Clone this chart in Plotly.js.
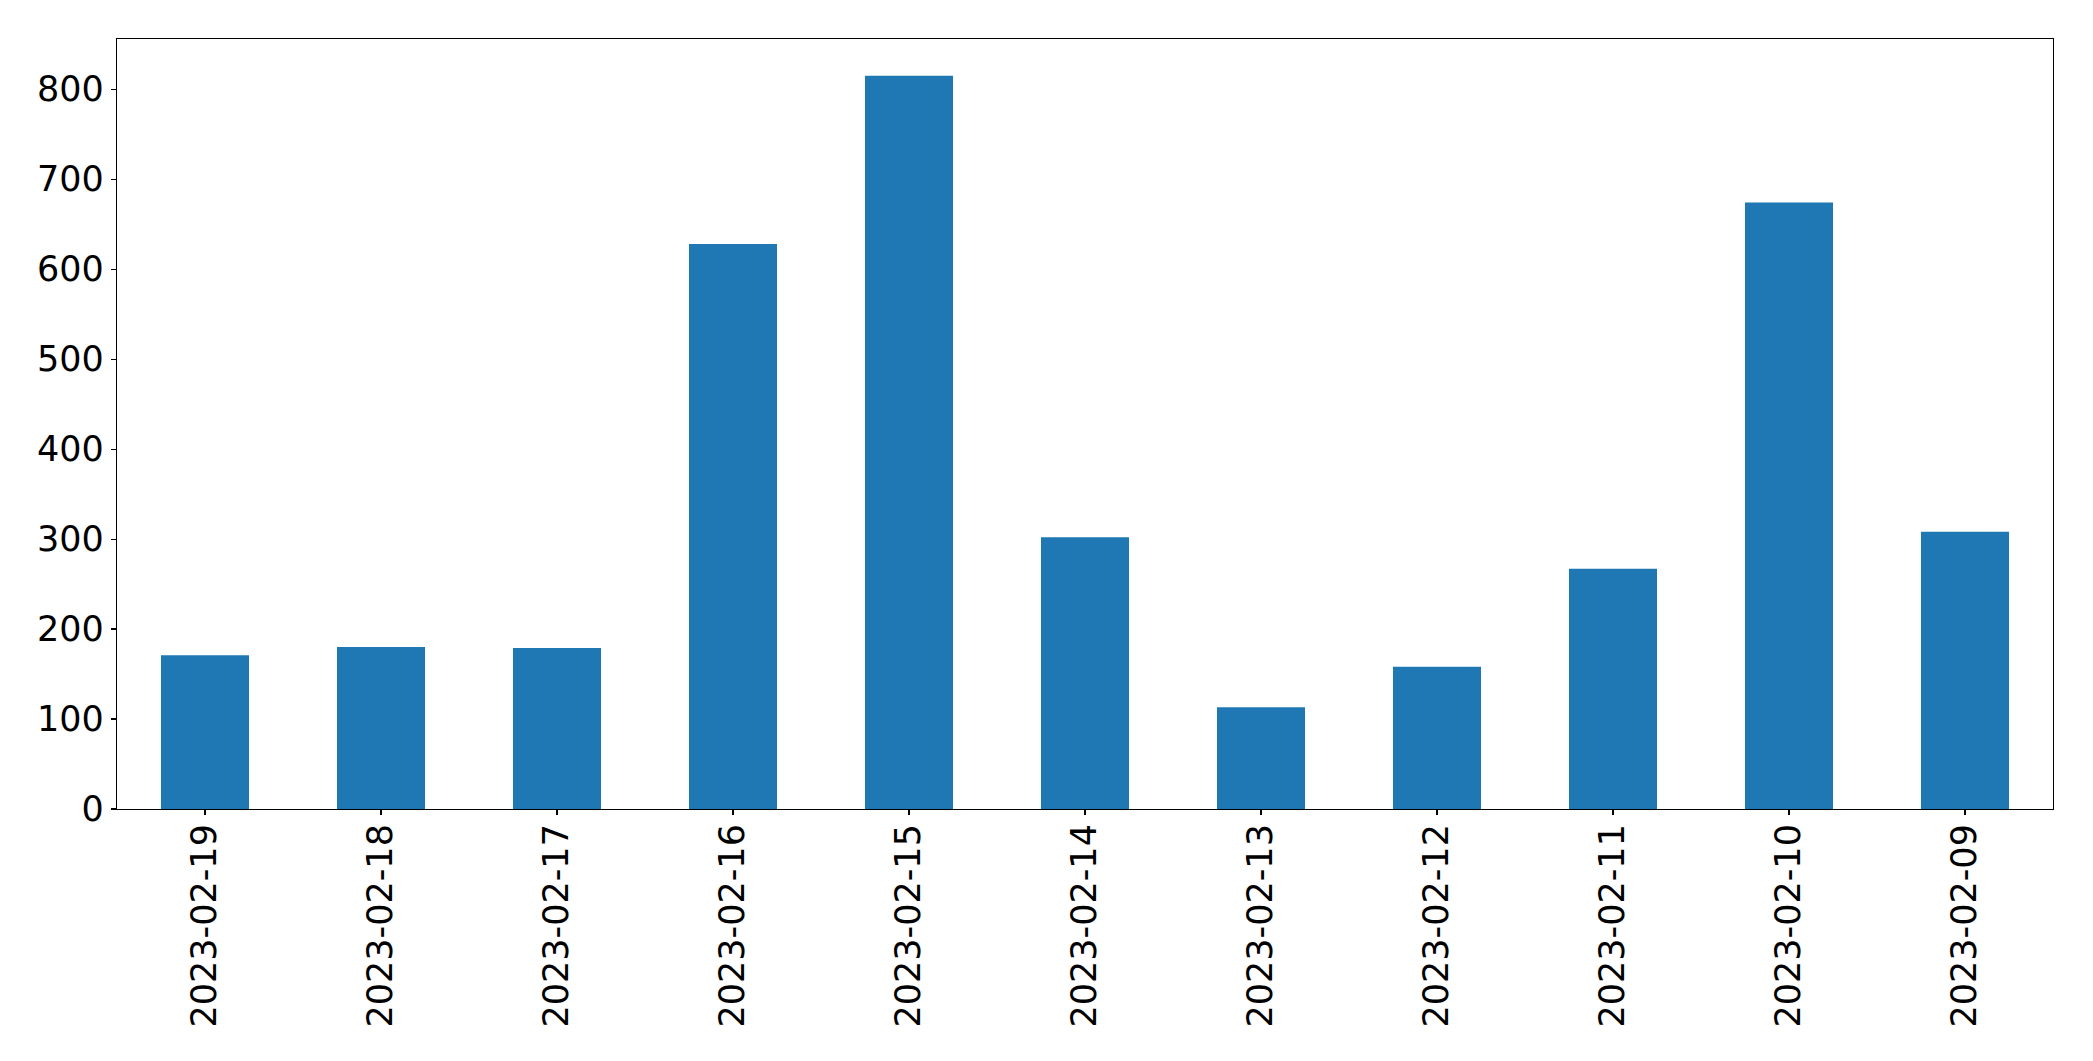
<!DOCTYPE html>
<html>
<head>
<meta charset="utf-8">
<script src="https://cdn.plot.ly/plotly-3.0.1.min.js"></script>
<style>
  html, body { margin: 0; padding: 0; background: #ffffff; }
  #chart { width: 2093px; height: 1061px; }
</style>
</head>
<body>
<div id="chart"></div>
<script>
const dates = ["2023-02-19", "2023-02-18", "2023-02-17", "2023-02-16", "2023-02-15", "2023-02-14",
               "2023-02-13", "2023-02-12", "2023-02-11", "2023-02-10", "2023-02-09"];
const counts = [171, 180, 179, 628, 815, 302, 113, 158, 267, 674, 308];
const yTicks = [0, 100, 200, 300, 400, 500, 600, 700, 800];

const trace = {
  type: "bar",
  x: dates,
  y: counts,
  marker: { color: "#1f77b4", line: { width: 0 } },
  hoverinfo: "x+y"
};

const tickFont = { family: "DejaVu Sans, sans-serif", size: 35, color: "#000000" };

const layout = {
  width: 2093,
  height: 1061,
  margin: { l: 117, r: 40, t: 39, b: 252, pad: 0 },
  paper_bgcolor: "#ffffff",
  plot_bgcolor: "#ffffff",
  showlegend: false,
  bargap: 0.5,
  xaxis: {
    type: "category",
    range: [-0.5, dates.length - 0.5],
    tickangle: -90,
    tickfont: tickFont,
    ticks: "outside",
    ticklen: 5,
    tickwidth: 1.1,
    tickcolor: "#000000",
    ticklabelstandoff: -5,
    showline: true,
    linecolor: "#000000",
    linewidth: 1.1,
    mirror: true,
    showgrid: false,
    zeroline: false,
    automargin: false
  },
  yaxis: {
    range: [0, 855.75],
    tickmode: "array",
    tickvals: yTicks,
    ticktext: yTicks.map(String),
    tickfont: tickFont,
    ticks: "outside",
    ticklen: 5,
    tickwidth: 1.1,
    tickcolor: "#000000",
    showline: true,
    linecolor: "#000000",
    linewidth: 1.1,
    mirror: true,
    showgrid: false,
    zeroline: false,
    automargin: false
  }
};

Plotly.newPlot("chart", [trace], layout, { displayModeBar: false, staticPlot: true });
</script>
</body>
</html>
